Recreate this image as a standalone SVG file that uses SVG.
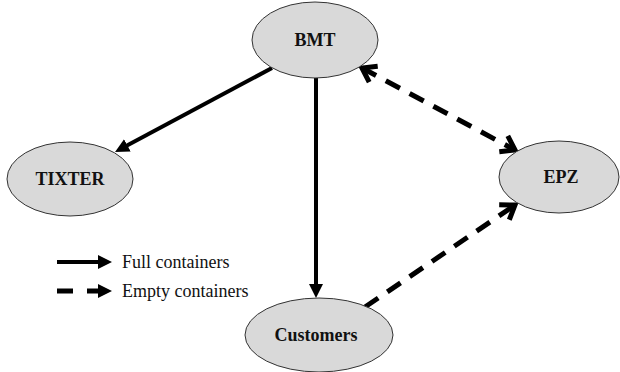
<svg xmlns="http://www.w3.org/2000/svg" width="620" height="372" viewBox="0 0 620 372">
  <style>
    .node { fill: #d9d9d9; stroke: #333; stroke-width: 1; }
    .lbl { font-family: 'Liberation Serif', 'Times New Roman', serif; font-weight: bold; font-size: 18px; text-anchor: middle; fill: #111; }
    .leg { font-family: 'Liberation Serif', 'Times New Roman', serif; font-size: 18px; fill: #111; }
    .solid { stroke: #000; stroke-width: 4; fill: none; }
    .dash { stroke: #000; stroke-width: 5; fill: none; stroke-dasharray: 16 11; }
  </style>
  <defs>
    <marker id="tri" markerUnits="userSpaceOnUse" markerWidth="14" markerHeight="14" viewBox="0 0 14 14" refX="2" refY="7" orient="auto">
      <path d="M0,0 L14,7 L0,14 z" fill="#000"/>
    </marker>
    <marker id="chev" markerUnits="userSpaceOnUse" markerWidth="22" markerHeight="22" viewBox="0 0 22 22" refX="17" refY="11" orient="auto-start-reverse" overflow="visible">
      <path d="M4,2 L17,11 L4,20" fill="none" stroke="#000" stroke-width="5" stroke-linejoin="miter"/>
    </marker>
  </defs>

  <g id="connectors">
    <line class="solid" x1="272" y1="68" x2="125.6" y2="146.3" marker-end="url(#tri)"/>
    <line class="solid" x1="316" y1="78" x2="316" y2="286" marker-end="url(#tri)"/>
    <line class="dash" x1="362" y1="68" x2="515" y2="150" marker-start="url(#chev)" marker-end="url(#chev)"/>
    <line class="dash" x1="365" y1="307" x2="515" y2="205" marker-end="url(#chev)"/>
  </g>

  <g id="BMT">
    <ellipse class="node" cx="315" cy="40" rx="63" ry="38"/>
    <text class="lbl" x="315" y="46">BMT</text>
  </g>
  <g id="TIXTER">
    <ellipse class="node" cx="70" cy="179" rx="63" ry="37"/>
    <text class="lbl" x="70" y="185">TIXTER</text>
  </g>
  <g id="EPZ">
    <ellipse class="node" cx="559" cy="177" rx="60" ry="36"/>
    <text class="lbl" x="561" y="183">EPZ</text>
  </g>
  <g id="Customers">
    <ellipse class="node" cx="319" cy="335" rx="74" ry="37"/>
    <text class="lbl" x="316" y="341">Customers</text>
  </g>

  <g id="legend">
    <line class="solid" x1="57" y1="262" x2="100" y2="262" marker-end="url(#tri)"/>
    <text class="leg" x="122" y="268">Full containers</text>
    <line x1="57" y1="291" x2="100" y2="291" stroke="#000" stroke-width="5" stroke-dasharray="16 14" marker-end="url(#tri)"/>
    <text class="leg" x="122" y="297">Empty containers</text>
  </g>
</svg>
